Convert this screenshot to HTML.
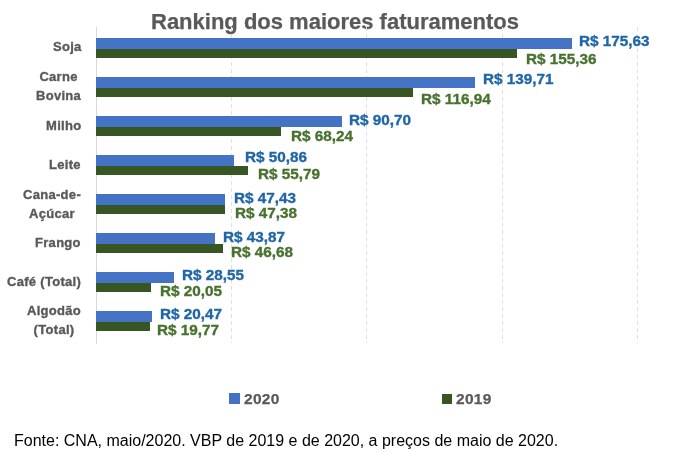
<!DOCTYPE html>
<html><head><meta charset="utf-8"><style>
html,body{margin:0;padding:0;background:#fff;}
body{width:675px;height:453px;position:relative;overflow:hidden;font-family:"Liberation Sans",sans-serif;}
.a{position:absolute;white-space:nowrap;will-change:transform;}
.bar{position:absolute;}
.grid{position:absolute;top:27px;height:316px;width:1px;background:repeating-linear-gradient(to bottom,#E0E0E0 0,#E0E0E0 4px,transparent 4px,transparent 7px);}
.lbl{position:absolute;will-change:transform;white-space:nowrap;font-weight:bold;font-size:14.5px;line-height:14.5px;transform:scaleX(1.055);transform-origin:0 0;-webkit-text-stroke:0.35px currentColor;}
.cat{position:absolute;will-change:transform;white-space:nowrap;font-weight:bold;font-size:13px;line-height:18.5px;letter-spacing:0.3px;color:#595959;text-align:center;-webkit-text-stroke:0.35px currentColor;}
</style></head><body>

<div class="a" style="left:150.5px;top:11.18px;font-size:22px;line-height:22px;font-weight:bold;-webkit-text-stroke:0.25px currentColor;color:#595959">Ranking dos maiores faturamentos</div>
<div class="a" style="left:96px;top:27px;width:1px;height:317px;background:#D9D9D9"></div>
<div class="grid" style="left:231px"></div>
<div class="grid" style="left:366px"></div>
<div class="grid" style="left:502px"></div>
<div class="grid" style="left:637px"></div>
<div class="bar" style="left:96px;top:38px;width:476.1px;height:11px;background:#4472C4"></div>
<div class="bar" style="left:96px;top:49px;width:421.2px;height:9px;background:#375623"></div>
<div class="bar" style="left:96px;top:77px;width:378.8px;height:11px;background:#4472C4"></div>
<div class="bar" style="left:96px;top:88px;width:317.2px;height:9px;background:#375623"></div>
<div class="bar" style="left:96px;top:116px;width:246.1px;height:11px;background:#4472C4"></div>
<div class="bar" style="left:96px;top:127px;width:185.3px;height:9px;background:#375623"></div>
<div class="bar" style="left:96px;top:155px;width:138.2px;height:11px;background:#4472C4"></div>
<div class="bar" style="left:96px;top:166px;width:151.6px;height:9px;background:#375623"></div>
<div class="bar" style="left:96px;top:194px;width:128.9px;height:11px;background:#4472C4"></div>
<div class="bar" style="left:96px;top:205px;width:128.8px;height:9px;background:#375623"></div>
<div class="bar" style="left:96px;top:233px;width:119.3px;height:11px;background:#4472C4"></div>
<div class="bar" style="left:96px;top:244px;width:126.9px;height:9px;background:#375623"></div>
<div class="bar" style="left:96px;top:272px;width:77.8px;height:11px;background:#4472C4"></div>
<div class="bar" style="left:96px;top:283px;width:54.8px;height:9px;background:#375623"></div>
<div class="bar" style="left:96px;top:311px;width:55.9px;height:11px;background:#4472C4"></div>
<div class="bar" style="left:96px;top:322px;width:54.0px;height:9px;background:#375623"></div>
<div class="lbl" style="left:579.4px;top:33.9px;color:#1F66A8">R$ 175,63</div>
<div class="lbl" style="left:526.0px;top:52.1px;color:#47722E">R$ 155,36</div>
<div class="lbl" style="left:482.8px;top:71.7px;color:#1F66A8">R$ 139,71</div>
<div class="lbl" style="left:420.5px;top:92.0px;color:#47722E">R$ 116,94</div>
<div class="lbl" style="left:349.2px;top:112.5px;color:#1F66A8">R$ 90,70</div>
<div class="lbl" style="left:290.6px;top:128.5px;color:#47722E">R$ 68,24</div>
<div class="lbl" style="left:244.7px;top:150.0px;color:#1F66A8">R$ 50,86</div>
<div class="lbl" style="left:257.8px;top:166.7px;color:#47722E">R$ 55,79</div>
<div class="lbl" style="left:233.6px;top:191.1px;color:#1F66A8">R$ 47,43</div>
<div class="lbl" style="left:234.5px;top:206.4px;color:#47722E">R$ 47,38</div>
<div class="lbl" style="left:223.3px;top:230.2px;color:#1F66A8">R$ 43,87</div>
<div class="lbl" style="left:230.8px;top:245.1px;color:#47722E">R$ 46,68</div>
<div class="lbl" style="left:182.3px;top:268.2px;color:#1F66A8">R$ 28,55</div>
<div class="lbl" style="left:159.6px;top:283.8px;color:#47722E">R$ 20,05</div>
<div class="lbl" style="left:160.1px;top:306.7px;color:#1F66A8">R$ 20,47</div>
<div class="lbl" style="left:156.7px;top:322.6px;color:#47722E">R$ 19,77</div>
<div class="cat" style="right:593.7px;top:37.8px">Soja</div>
<div class="cat" style="right:593.7px;top:67.8px">Carne<br>Bovina</div>
<div class="cat" style="right:593.7px;top:116.9px">Milho</div>
<div class="cat" style="right:593.7px;top:156.2px">Leite</div>
<div class="cat" style="right:593.7px;top:185.6px">Cana-de-<br>Açúcar</div>
<div class="cat" style="right:593.7px;top:234.0px">Frango</div>
<div class="cat" style="right:593.7px;top:272.8px">Café (Total)</div>
<div class="cat" style="right:593.7px;top:301.5px">Algodão<br>(Total)</div>
<div class="a" style="left:229px;top:393px;width:11px;height:11px;background:#4472C4"></div>
<div class="a" style="left:243.5px;top:390.6px;font-size:15.5px;line-height:15.5px;font-weight:bold;letter-spacing:0.3px;-webkit-text-stroke:0.25px currentColor;color:#595959">2020</div>
<div class="a" style="left:442px;top:394px;width:10px;height:10px;background:#375623"></div>
<div class="a" style="left:456px;top:390.6px;font-size:15.5px;line-height:15.5px;font-weight:bold;letter-spacing:0.3px;-webkit-text-stroke:0.25px currentColor;color:#595959">2019</div>
<div class="a" style="left:13.5px;top:433.3px;font-size:16px;line-height:16px;color:#000">Fonte: CNA, maio/2020. VBP de 2019 e de 2020, a preços de maio de 2020.</div>
</body></html>
